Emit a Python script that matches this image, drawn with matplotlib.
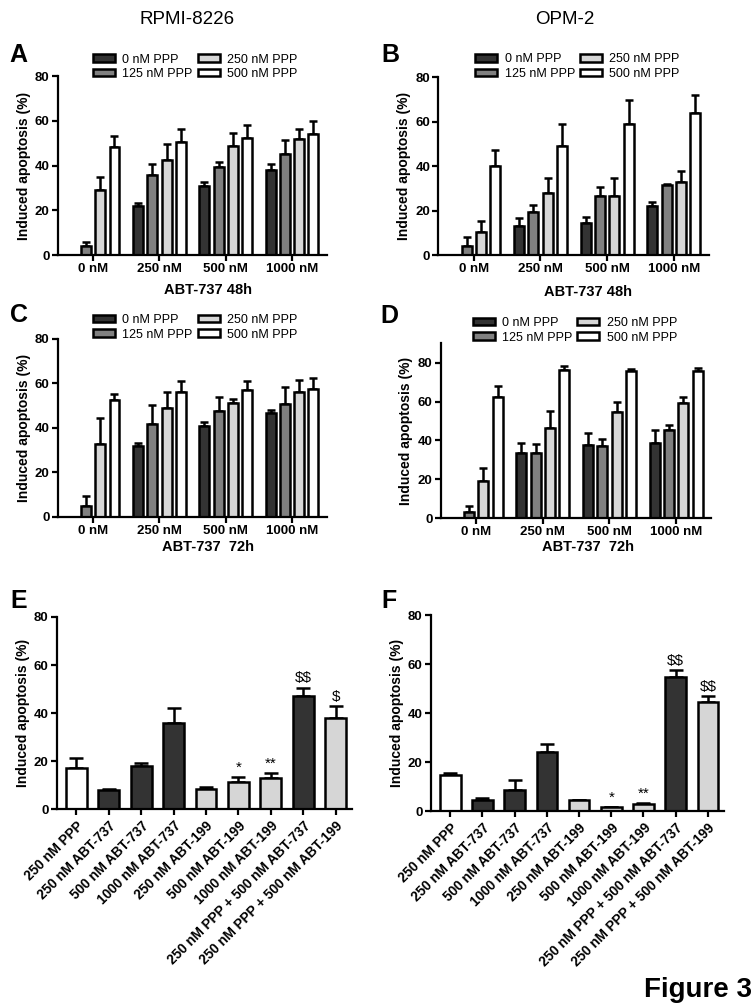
import matplotlib
matplotlib.use("Agg")
import matplotlib.pyplot as plt
import numpy as np

plt.rcParams['font.family'] = ['Liberation Sans', 'DejaVu Sans']
plt.rcParams['text.parse_math'] = False

# ---- data ----
groups = ['0 nM', '250 nM', '500 nM', '1000 nM']
ppp_labels = ['0 nM PPP', '125 nM PPP', '250 nM PPP', '500 nM PPP']

# RPMI-8226, 48h (rows = PPP dose, cols = ABT-737 dose)
a_mean = [[0, 22.0, 30.8, 37.8],
          [4.2, 35.6, 39.4, 45.2],
          [29.0, 42.6, 48.8, 51.9],
          [48.4, 50.4, 52.5, 54.3]]
a_err = [[0, 1.2, 1.8, 2.7],
         [1.6, 5.0, 2.3, 6.0],
         [6.0, 6.8, 5.8, 4.6],
         [4.7, 5.7, 5.5, 5.8]]

# OPM-2, 48h
b_mean = [[0, 12.9, 14.2, 22.0],
          [4.2, 19.5, 26.5, 31.3],
          [10.2, 28.0, 26.5, 33.0],
          [40.2, 49.2, 59.2, 64.0]]
b_err = [[0, 3.9, 3.0, 1.8],
         [3.8, 3.0, 3.9, 0.7],
         [5.1, 6.8, 8.1, 4.9],
         [6.9, 9.7, 10.5, 8.1]]

# RPMI-8226, 72h
c_mean = [[0, 32.0, 40.7, 46.5],
          [4.7, 41.9, 47.7, 50.6],
          [32.9, 48.9, 51.0, 56.0],
          [52.6, 56.1, 57.1, 57.5]]
c_err = [[0, 1.3, 1.9, 1.5],
         [4.6, 8.4, 6.2, 7.7],
         [11.4, 7.4, 2.2, 5.5],
         [2.5, 4.8, 3.8, 4.8]]

# OPM-2, 72h
d_mean = [[0, 33.6, 37.6, 38.4],
          [2.9, 33.6, 37.0, 45.3],
          [18.9, 46.5, 54.7, 59.2],
          [62.1, 76.0, 75.6, 75.6]]
d_err = [[0, 5.3, 6.1, 6.7],
         [3.4, 4.3, 3.7, 2.6],
         [7.0, 8.5, 5.2, 3.2],
         [5.7, 2.2, 1.2, 1.9]]

treatments = ['250 nM PPP', '250 nM ABT-737', '500 nM ABT-737', '1000 nM ABT-737',
              '250 nM ABT-199', '500 nM ABT-199', '1000 nM ABT-199',
              '250 nM PPP + 500 nM ABT-737', '250 nM PPP + 500 nM ABT-199']
e_mean = [17.2, 7.8, 17.9, 35.7, 8.5, 11.4, 12.8, 46.9, 37.9]
e_err = [3.9, 0.4, 1.1, 6.2, 0.5, 1.8, 2.2, 3.5, 4.9]
e_marks = ['', '', '', '', '', '*', '**', '$$', '$']
f_mean = [14.7, 4.6, 8.6, 24.2, 4.4, 1.5, 2.7, 54.8, 44.5]
f_err = [0.9, 0.6, 4.2, 3.0, 0.2, 0.2, 0.6, 2.6, 2.3]
f_marks = ['', '', '', '', '', '*', '**', '$$', '$$']

ppp_colors = ['#333333', '#808080', '#d6d6d6', '#ffffff']
treat_colors = ['#ffffff', '#333333', '#333333', '#333333',
                '#d6d6d6', '#d6d6d6', '#d6d6d6', '#333333', '#d6d6d6']

EDGE = 1.8


def style_axes(ax):
    for s in ['top', 'right']:
        ax.spines[s].set_visible(False)
    for s in ['left', 'bottom']:
        ax.spines[s].set_linewidth(1.6)
    ax.tick_params(width=1.6, length=4, labelsize=9.5, pad=2)
    for t in ax.get_xticklabels() + ax.get_yticklabels():
        t.set_fontweight('bold')
    ax.set_ylabel('Induced apoptosis (%)', fontsize=10, fontweight='bold', labelpad=3)


def grouped(ax, means, errs, ylim, legend_anchor):
    x = np.arange(len(groups))
    step = 0.215
    handles = []
    for i in range(len(ppp_labels)):
        xs = x + (i - 1.5) * step
        m = np.array(means[i])
        e = np.array(errs[i])
        bars = ax.bar(xs, m, width=0.15, color=ppp_colors[i], edgecolor='black',
                      linewidth=EDGE, label=ppp_labels[i], zorder=2)
        handles.append(bars)
        ok = m > 0
        ax.errorbar(xs[ok], m[ok], yerr=[np.zeros(ok.sum()), e[ok]], fmt='none',
                    ecolor='black', elinewidth=1.8, capsize=2.6, capthick=1.8, zorder=1)
    ax.set_xticks(x)
    ax.set_xticklabels(groups)
    ax.set_xlim(-0.53, 3.53)
    ax.set_ylim(*ylim)
    ax.set_yticks([0, 20, 40, 60, 80])
    style_axes(ax)
    ax.legend(handles=handles, ncol=2, loc='upper left', bbox_to_anchor=legend_anchor,
              frameon=False, fontsize=9, handlelength=1.75, handleheight=0.55,
              handletextpad=0.6, columnspacing=0.4, labelspacing=0.2,
              borderpad=0, borderaxespad=0)


def single(ax, means, errs, marks):
    x = np.arange(len(treatments))
    m = np.array(means)
    e = np.array(errs)
    ax.bar(x, m, width=0.64, color=treat_colors, edgecolor='black', linewidth=EDGE, zorder=2)
    ax.errorbar(x, m, yerr=[np.zeros(len(m)), e], fmt='none', ecolor='black',
                elinewidth=1.8, capsize=5, capthick=1.8, zorder=1)
    for xi, mi, ei, mk in zip(x, m, e, marks):
        if mk:
            ax.annotate(mk, (xi, mi + ei), xytext=(0, 4), textcoords='offset points',
                        ha='center', va='baseline', fontsize=11)
    ax.set_xticks(x)
    ax.set_xticklabels(treatments, rotation=45, ha='right', rotation_mode='anchor')
    ax.set_xlim(-0.6, 8.5)
    ax.set_ylim(0, 80)
    ax.set_yticks([0, 20, 40, 60, 80])
    style_axes(ax)
    ax.tick_params(axis='x', pad=3)
    for t in ax.get_xticklabels():
        t.set_fontsize(9.8)


fig = plt.figure(figsize=(7.56, 10.08), dpi=100)

axA = fig.add_axes([0.0767, 0.747, 0.356, 0.1776])
axB = fig.add_axes([0.580, 0.747, 0.358, 0.1763])
axC = fig.add_axes([0.0767, 0.4874, 0.356, 0.1763])
axD = fig.add_axes([0.583, 0.4861, 0.358, 0.1733])
axE = fig.add_axes([0.0754, 0.1974, 0.39, 0.1905])
axF = fig.add_axes([0.570, 0.1954, 0.3876, 0.1944])

grouped(axA, a_mean, a_err, (0, 80), (0.13, 1.125))
grouped(axB, b_mean, b_err, (0, 80), (0.136, 1.135))
grouped(axC, c_mean, c_err, (0, 80), (0.13, 1.14))
grouped(axD, d_mean, d_err, (0, 90), (0.118, 1.15))
single(axE, e_mean, e_err, e_marks)
single(axF, f_mean, f_err, f_marks)

# sub-captions
fig.text(208 / 756, 1 - 290 / 1008, 'ABT-737 48h', ha='center', va='center', fontsize=10.5, fontweight='bold')
fig.text(588 / 756, 1 - 292 / 1008, 'ABT-737 48h', ha='center', va='center', fontsize=10.5, fontweight='bold')
fig.text(208 / 756, 1 - 547 / 1008, 'ABT-737  72h', ha='center', va='center', fontsize=10.5, fontweight='bold')
fig.text(588 / 756, 1 - 547 / 1008, 'ABT-737  72h', ha='center', va='center', fontsize=10.5, fontweight='bold')

# column titles
fig.text(187 / 756, 1 - 19 / 1008, 'RPMI-8226', ha='center', va='center', fontsize=13.5)
fig.text(565 / 756, 1 - 19 / 1008, 'OPM-2', ha='center', va='center', fontsize=13.5)

# panel letters
for letter, px, py in [('A', 9, 62), ('B', 381, 62), ('C', 10, 322), ('D', 380, 323),
                       ('E', 10, 608), ('F', 381, 608)]:
    fig.text(px / 756, 1 - py / 1008, letter, ha='left', va='baseline', fontsize=18, fontweight='bold')

fig.text(752 / 756, 1 - 997 / 1008, 'Figure 3', ha='right', va='baseline', fontsize=20, fontweight='bold')

fig.savefig('out.png', dpi=100)
